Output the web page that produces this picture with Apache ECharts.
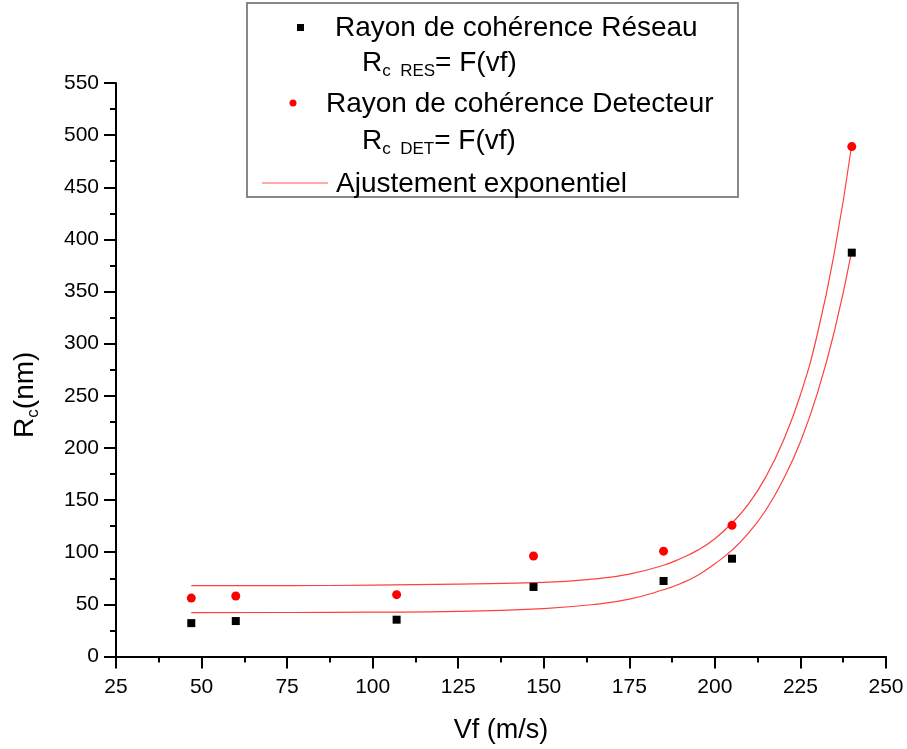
<!DOCTYPE html>
<html>
<head>
<meta charset="utf-8">
<script src="https://cdn.jsdelivr.net/npm/echarts@6/dist/echarts.min.js"></script>
<style>
html,body{margin:0;padding:0;background:#fff;}
#chart{width:907px;height:749px;}
</style>
</head>
<body>
<div id="chart"></div>
<script>
// ---- data ----
var xTicks = [25, 50, 75, 100, 125, 150, 175, 200, 225, 250];
var yTicks = [0, 50, 100, 150, 200, 250, 300, 350, 400, 450, 500, 550];

var vf = [47, 60, 107, 147, 185, 205, 240];
var rcReseau = [32, 34, 35.3, 66.7, 72.4, 93.8, 387.3];
var rcDetecteur = [56, 58, 59.3, 96.4, 101, 125.8, 489];

// fitted exponential curves
var fitX = [47, 75, 100, 125, 150, 165, 175, 185, 190, 195, 200, 205, 210, 215, 220, 225, 230, 235, 240];
var fitReseau = [42, 42.2, 42.5, 43.2, 46, 50, 55, 64, 70, 78, 89, 102, 119, 141, 170, 206, 253, 313, 389];
var fitDetecteur = [68, 68, 68.5, 69.5, 71, 74.5, 79, 87.5, 94, 102, 113, 128, 147, 173, 207, 251, 310, 389, 491];

var legendTexts = {
  reseau: 'Rayon de cohérence Réseau',
  reseauEq: ['R', 'c  RES', '= F(vf)'],
  det: 'Rayon de cohérence Detecteur',
  detEq: ['R', 'c  DET', '= F(vf)'],
  fit: 'Ajustement exponentiel'
};
var xName = 'Vf (m/s)';
var yName = ['R', 'c', '(nm)'];

function pairs(xs, ys) { return xs.map(function (x, i) { return [x, ys[i]]; }); }

var FONT = "'Liberation Sans', Arial, Helvetica, sans-serif";
var chart = echarts.init(document.getElementById('chart'), null, {renderer: 'canvas'});

var eqRich = {
  s: {fontSize: 17, fontFamily: FONT, color: '#000', lineHeight: 17, verticalAlign: 'bottom'}
};

var option = {
  backgroundColor: '#fff',
  animation: false,
  grid: {left: 113, right: 21, top: 83, bottom: 92.5, containLabel: false},
  xAxis: {
    type: 'value', min: 25, max: 250, interval: 25,
    name: xName, nameLocation: 'middle', nameGap: 74,
    nameTextStyle: {fontSize: 27, fontFamily: FONT, color: '#000', align: 'center', verticalAlign: 'middle'},
    axisLine: {show: true, onZero: false, lineStyle: {color: '#000', width: 2}},
    axisTick: {show: true, inside: false, length: 12, lineStyle: {color: '#000', width: 2}},
    minorTick: {show: true, splitNumber: 2, length: 6, lineStyle: {color: '#000', width: 2}},
    axisLabel: {fontSize: 21, fontFamily: FONT, color: '#000', margin: 20,
      formatter: function (v) { return xTicks.indexOf(v) >= 0 ? String(v) : ''; }},
    splitLine: {show: false}
  },
  yAxis: {
    type: 'value', min: 0, max: 550, interval: 50,
    name: yName[0] + '{s|' + yName[1] + '}' + yName[2],
    nameLocation: 'middle', nameGap: 91, nameRotate: 90,
    nameTextStyle: {
      fontSize: 28, fontFamily: FONT, color: '#000', align: 'center', verticalAlign: 'middle',
      lineHeight: 34, padding: [0, 50, 0, 0],
      rich: {s: {fontSize: 17, fontFamily: FONT, color: '#000', lineHeight: 17, verticalAlign: 'bottom'}}
    },
    axisLine: {show: true, onZero: false, lineStyle: {color: '#000', width: 2}},
    axisTick: {show: true, inside: false, length: 12, lineStyle: {color: '#000', width: 2}},
    minorTick: {show: true, splitNumber: 2, length: 6, lineStyle: {color: '#000', width: 2}},
    axisLabel: {fontSize: 21, fontFamily: FONT, color: '#000', margin: 17,
      formatter: function (v) { return yTicks.indexOf(v) >= 0 ? String(v) : ''; }},
    splitLine: {show: false}
  },
  series: [
    {
      name: 'fitReseau', type: 'line', data: pairs(fitX, fitReseau), smooth: 0.5,
      showSymbol: false, symbol: 'none', lineStyle: {color: '#ff4040', width: 1.2}, z: 2
    },
    {
      name: 'fitDetecteur', type: 'line', data: pairs(fitX, fitDetecteur), smooth: 0.5,
      showSymbol: false, symbol: 'none', lineStyle: {color: '#ff4040', width: 1.2}, z: 2
    },
    {
      name: legendTexts.reseau, type: 'scatter', data: pairs(vf, rcReseau),
      symbol: 'rect', symbolSize: 8, itemStyle: {color: '#000', opacity: 1}, z: 3
    },
    {
      name: legendTexts.det, type: 'scatter', data: pairs(vf, rcDetecteur),
      symbol: 'circle', symbolSize: 9, itemStyle: {color: '#ff0000', opacity: 1}, z: 3
    }
  ],
  graphic: [
    {type: 'rect', shape: {x: 247, y: 3, width: 491, height: 194},
      style: {fill: '#fff', stroke: '#888', lineWidth: 2}, z: 10},
    {type: 'rect', shape: {x: 297, y: 24, width: 7, height: 7}, style: {fill: '#000'}, z: 11},
    {type: 'text', x: 335, y: 28, z: 11,
      style: {text: legendTexts.reseau, font: '28px ' + FONT, fill: '#000', verticalAlign: 'middle'}},
    {type: 'text', x: 362, y: 63, z: 11,
      style: {text: legendTexts.reseauEq[0] + '{s|' + legendTexts.reseauEq[1] + '}' + legendTexts.reseauEq[2],
        fontSize: 28, fontFamily: FONT, fill: '#000', lineHeight: 34, verticalAlign: 'middle', rich: eqRich}},
    {type: 'circle', shape: {cx: 293, cy: 103, r: 3.5}, style: {fill: '#ff0000'}, z: 11},
    {type: 'text', x: 326, y: 104, z: 11,
      style: {text: legendTexts.det, font: '28px ' + FONT, fill: '#000', verticalAlign: 'middle'}},
    {type: 'text', x: 362, y: 141, z: 11,
      style: {text: legendTexts.detEq[0] + '{s|' + legendTexts.detEq[1] + '}' + legendTexts.detEq[2],
        fontSize: 28, fontFamily: FONT, fill: '#000', lineHeight: 34, verticalAlign: 'middle', rich: eqRich}},
    {type: 'line', shape: {x1: 262, y1: 183, x2: 328, y2: 183}, style: {stroke: '#ff5555', lineWidth: 1.2}, z: 11},
    {type: 'text', x: 336, y: 184, z: 11,
      style: {text: legendTexts.fit, font: '28px ' + FONT, fill: '#000', verticalAlign: 'middle'}}
  ]
};
chart.setOption(option);
</script>
</body>
</html>
